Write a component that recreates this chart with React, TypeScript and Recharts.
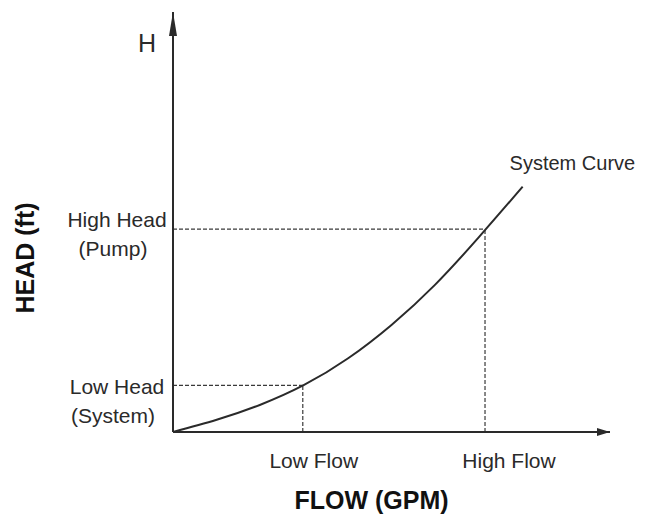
import { LineChart, Line, XAxis, YAxis, ReferenceLine, ReferenceDot, Label } from "recharts";

// curve (flow vs head, 0..100 on both axes)
const flowValues = [0, 10, 20, 30, 40, 50, 60, 70, 80];
const headValues = [0, 2.9, 6.5, 11.2, 17.5, 25.5, 35.1, 46.4, 58.4];

const flowTicks = [29.7, 71.4];
const flowTickLabels = ["Low Flow", "High Flow"];
const headTicks = [11.1, 48.3];
const headTickLabels = [
  ["Low Head", "(System)"],
  ["High Head", "(Pump)"],
];

const curveName = "System Curve";
const xTitle = "FLOW (GPM)";
const yTitle = "HEAD (ft)";
const yLetter = "H";

const data = flowValues.map((f, i) => ({ flow: f, head: headValues[i] }));

const ink = "#2a2a2a";
const dash = "#3a3a3a";
const font = "'Liberation Sans', Arial, sans-serif";

function FlowTick({ x, y, payload }: any) {
  const i = flowTicks.indexOf(payload.value);
  const dx = i === 0 ? 11 : 24;
  return (
    <text x={x + dx} y={y + 20} textAnchor="middle" dominantBaseline="central" fontFamily={font} fontSize={21} fill={ink}>
      {flowTickLabels[i]}
    </text>
  );
}

function HeadTick({ y, payload }: any) {
  const i = headTicks.indexOf(payload.value);
  const top = i === 0 ? y + 1 : y - 10;
  return (
    <g fontFamily={font} fontSize={21} fill={ink}>
      <text x={117} y={top} textAnchor="middle" dominantBaseline="central">
        {headTickLabels[i][0]}
      </text>
      <text x={113} y={top + 29} textAnchor="middle" dominantBaseline="central">
        {headTickLabels[i][1]}
      </text>
    </g>
  );
}

export default function App() {
  const last = flowValues.length - 1;
  const hi = 1;
  const lo = 0;
  return (
    <div style={{ position: "absolute", left: 0, top: 0, background: "#fff" }}>
      <LineChart width={647} height={521} data={data} margin={{ top: 12, right: 37, bottom: 0, left: 0 }}>
        <XAxis
          dataKey="flow"
          type="number"
          domain={[0, 100]}
          ticks={flowTicks}
          tick={<FlowTick />}
          tickLine={false}
          axisLine={{ stroke: ink, strokeWidth: 2 }}
          height={89}
        >
          <Label
            content={({ viewBox }: any) => (
              <text
                x={viewBox.x + viewBox.width / 2 - 20}
                y={viewBox.y + 68}
                textAnchor="middle"
                dominantBaseline="central"
                fontFamily={font}
                fontWeight="bold"
                fontSize={25}
                fill="#111"
              >
                {xTitle}
              </text>
            )}
          />
        </XAxis>
        <YAxis
          type="number"
          domain={[0, 100]}
          ticks={headTicks}
          tick={<HeadTick />}
          tickLine={false}
          axisLine={{ stroke: ink, strokeWidth: 2 }}
          width={173}
        >
          <Label
            content={() => (
              <g>
                <text
                  x={25}
                  y={258}
                  transform="rotate(-90 25 258)"
                  textAnchor="middle"
                  dominantBaseline="central"
                  fontFamily={font}
                  fontWeight="bold"
                  fontSize={25}
                  fill="#111"
                >
                  {yTitle}
                </text>
                <text x={147} y={43} textAnchor="middle" dominantBaseline="central" fontFamily={font} fontSize={25} fill={ink}>
                  {yLetter}
                </text>
              </g>
            )}
          />
        </YAxis>
        <ReferenceLine
          segment={[{ x: 0, y: headTicks[hi] }, { x: flowTicks[hi], y: headTicks[hi] }]}
          stroke={dash}
          strokeWidth={1.2}
          strokeDasharray="4 2"
        />
        <ReferenceLine
          segment={[{ x: flowTicks[hi], y: 0 }, { x: flowTicks[hi], y: headTicks[hi] }]}
          stroke={dash}
          strokeWidth={1.2}
          strokeDasharray="4 2"
        />
        <ReferenceLine
          segment={[{ x: 0, y: headTicks[lo] }, { x: flowTicks[lo], y: headTicks[lo] }]}
          stroke={dash}
          strokeWidth={1.2}
          strokeDasharray="4 2"
        />
        <ReferenceLine
          segment={[{ x: flowTicks[lo], y: 0 }, { x: flowTicks[lo], y: headTicks[lo] }]}
          stroke={dash}
          strokeWidth={1.2}
          strokeDasharray="4 2"
        />
        <Line
          type="natural"
          dataKey="head"
          stroke={ink}
          strokeWidth={2}
          dot={false}
          isAnimationActive={false}
        />
        <ReferenceDot
          x={100}
          y={0}
          shape={({ cx, cy }: any) => (
            <polygon points={`${cx},${cy} ${cx - 13},${cy - 4} ${cx - 13},${cy + 4}`} fill={ink} />
          )}
        />
        <ReferenceDot
          x={0}
          y={100}
          shape={({ cx, cy }: any) => (
            <polygon points={`${cx},${cy} ${cx - 4},${cy + 24} ${cx + 4},${cy + 24}`} fill={ink} />
          )}
        />
        <ReferenceDot
          x={flowValues[last]}
          y={headValues[last]}
          shape={({ cx, cy }: any) => (
            <text x={cx - 13} y={cy - 24} dominantBaseline="central" fontFamily={font} fontSize={20} fill={ink}>
              {curveName}
            </text>
          )}
        />
      </LineChart>
    </div>
  );
}
